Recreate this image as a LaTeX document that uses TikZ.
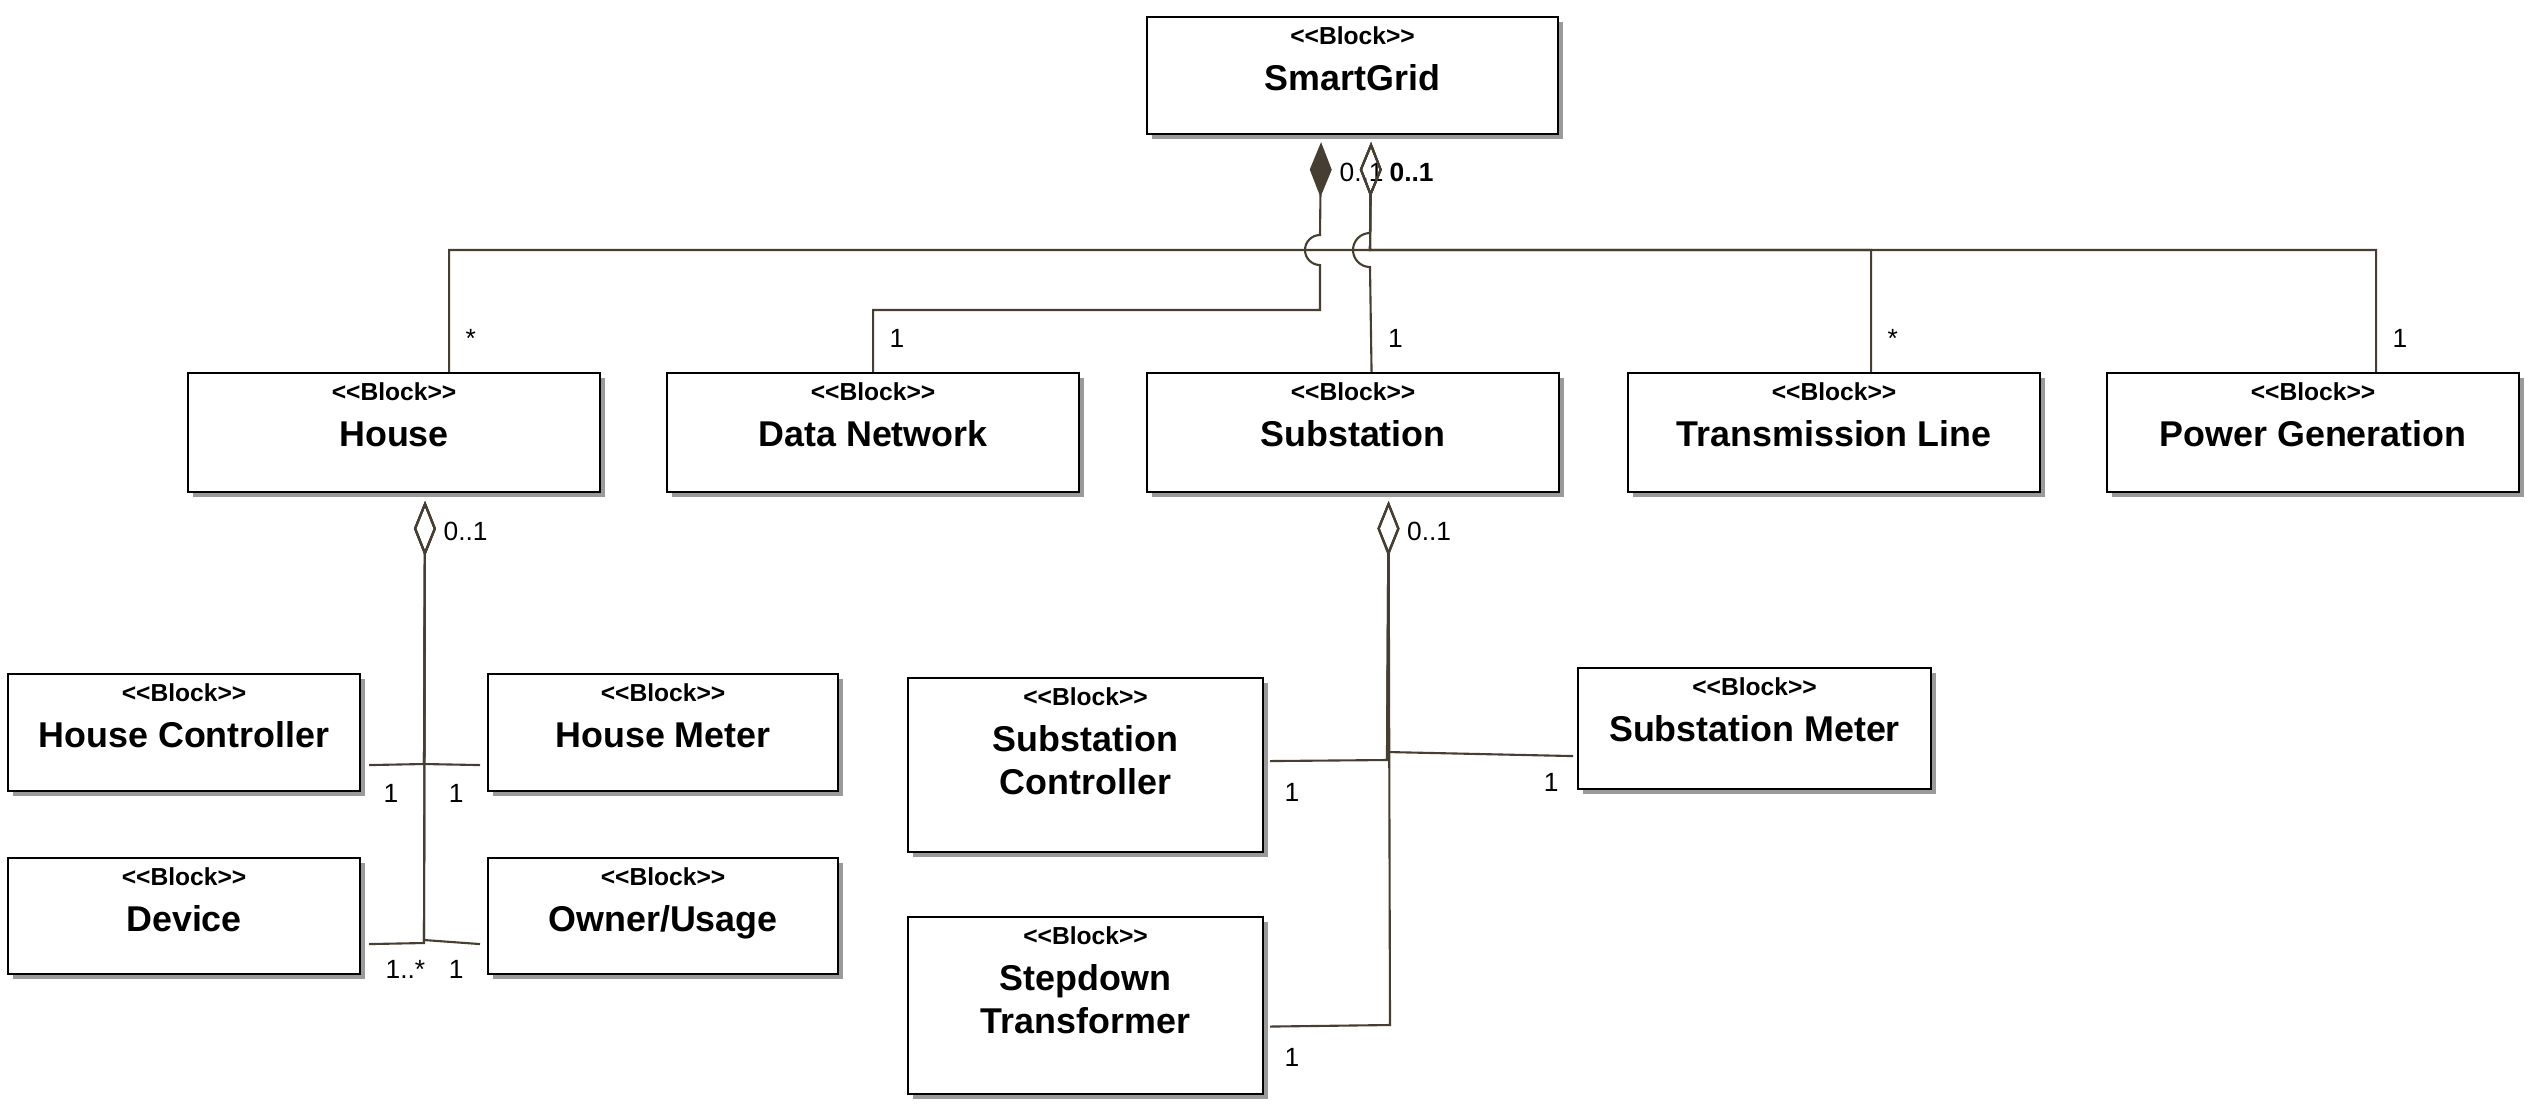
\documentclass[tikz,border=0pt]{standalone}
\usepackage{fontspec}
\setmainfont{Liberation Sans}
\usetikzlibrary{arrows.meta,positioning,shadows}
\definecolor{Umber}{HTML}{463E30}
\definecolor{Shade}{HTML}{9A9A9A}
\newcommand{\stereofont}{\bfseries\fontsize{7}{8}\selectfont}
\tikzset{
  blockbox/.style={draw=black, line width=0.6pt, fill=white, anchor=north west, minimum width=4.12cm, minimum height=1.19cm, drop shadow={shadow xshift=0.05cm, shadow yshift=-0.05cm, fill=Shade, opacity=1}},
  blocktext/.style={anchor=north, align=center, inner sep=0pt, yshift=-1mm, font=\bfseries\fontsize{10.2}{12.2}\selectfont},
  block/.style={label={[blocktext]north:{{\stereofont<{}<Block>{}>}\\[1pt]#1}}},
  assoc/.style={draw=Umber, line width=0.6pt},
  comp/.style={assoc, {Diamond[length=5.5mm, width=2.2mm, fill=Umber]}-},
  agg/.style={assoc, {Diamond[open, length=5.5mm, width=2.2mm]}-},
  mult/.style={font=\fontsize{7.5}{9}\selectfont, inner sep=1pt, text=black},
  endmult/.style={mult, anchor=west, xshift=1.4mm, yshift=-3mm},
  boldmult/.style={endmult, font=\bfseries\fontsize{7.5}{9}\selectfont}
}
\begin{document}
\begin{tikzpicture}
  \useasboundingbox (0,0) rectangle (25.28,-11.16);

  % top level
  \node[blockbox, minimum width=4.11cm, minimum height=1.17cm, block=SmartGrid] (smartgrid) at (11.46,-0.16) {};

  \node[blockbox, block=House] (house) at (1.87,-3.72) {};
  \node[blockbox, block=Data Network] (datanet) at (6.66,-3.72) {};
  \node[blockbox, block=Substation] (substation) at (11.46,-3.72) {};
  \node[blockbox, block=Transmission Line] (transline) at (16.27,-3.72) {};
  \node[blockbox, block=Power Generation] (powergen) at (21.06,-3.72) {};

  % house parts
  \node[blockbox, minimum width=3.52cm, minimum height=1.17cm, block=House Controller] (housectrl) at (0.07,-6.73) {};
  \node[blockbox, minimum width=3.50cm, minimum height=1.17cm, block=House Meter] (housemeter) at (4.87,-6.73) {};
  \node[blockbox, minimum width=3.52cm, minimum height=1.16cm, block=Device] (device) at (0.07,-8.57) {};
  \node[blockbox, minimum width=3.50cm, minimum height=1.16cm, block=Owner/Usage] (owner) at (4.87,-8.57) {};

  % substation parts
  \node[blockbox, minimum width=3.55cm, minimum height=1.74cm, block={Substation\\Controller}] (subctrl) at (9.07,-6.77) {};
  \node[blockbox, minimum width=3.53cm, minimum height=1.21cm, block=Substation Meter] (submeter) at (15.77,-6.67) {};
  \node[blockbox, minimum width=3.55cm, minimum height=1.77cm, block={Stepdown\\Transformer}] (stepdown) at (9.07,-9.16) {};

  \coordinate (sgcomp) at ([xshift=-3.15mm, yshift=-0.7mm]smartgrid.south);
  \coordinate (sgagg) at ([xshift=1.85mm, yshift=-0.7mm]smartgrid.south);
  \coordinate (houseagg) at ([xshift=3.1mm, yshift=-0.8mm]house.south);
  \coordinate (subagg) at ([xshift=3.55mm, yshift=-0.8mm]substation.south);

  % SmartGrid associations
  \draw[comp] (sgcomp) node[endmult]{0..1} -- (13.20,-2.35) arc[start angle=90, end angle=270, radius=0.15] -- (13.20,-3.10) -| node[mult, pos=1, above right=2mm and 1.2mm]{1} (datanet.north);
  \draw[agg] (sgagg) -- (13.70,-2.50) -| node[mult, pos=1, above right=2mm and 1.2mm]{*} ([xshift=5.5mm]house.north);
  \draw[agg] (sgagg) -- (13.70,-2.50) -| node[mult, pos=1, above right=2mm and 1.2mm]{*} ([xshift=3.7mm]transline.north);
  \draw[agg] (sgagg) -- (13.70,-2.50) -| node[mult, pos=1, above right=2mm and 1.2mm]{1} ([xshift=6.3mm]powergen.north);
  \draw[agg] (sgagg) node[boldmult]{0..1} -- (13.70,-2.33) arc[start angle=90, end angle=270, radius=0.17] -- node[mult, pos=1, above right=2mm and 1.2mm]{1} ([xshift=1.85mm]substation.north);

  % House associations
  \draw[agg] (houseagg) node[endmult]{0..1} -- (4.24,-7.64) -- node[mult, pos=1, below right=1.5mm and 1mm]{1} ([xshift=0.8mm, yshift=-3.25mm]housectrl.east);
  \draw[agg] (houseagg) -- (4.24,-7.64) -- node[mult, pos=1, below left=1.5mm and 1.2mm]{1} ([xshift=-0.7mm, yshift=-3.25mm]housemeter.west);
  \draw[agg] (houseagg) -- (4.24,-9.43) -- node[mult, pos=1, below right=1.2mm and 1.2mm]{1..*} ([xshift=0.8mm, yshift=-2.8mm]device.east);
  \draw[agg] (houseagg) -- (4.24,-9.40) -- node[mult, pos=1, below left=1.2mm and 1.2mm]{1} ([xshift=-0.7mm, yshift=-2.8mm]owner.west);

  % Substation associations
  \draw[agg] (subagg) node[endmult]{0..1} -- (13.87,-7.60) -- node[mult, pos=1, below right=1.8mm and 1mm]{1} ([xshift=0.6mm, yshift=0.4mm]subctrl.east);
  \draw[agg] (subagg) -- (13.87,-7.52) -- node[mult, pos=1, below left=1.3mm and 1mm]{1} ([xshift=-0.4mm, yshift=-2.75mm]submeter.west);
  \draw[agg] (subagg) -- (13.90,-10.25) -- node[mult, pos=1, below right=1.7mm and 1mm]{1} ([xshift=0.6mm, yshift=-2.1mm]stepdown.east);
\end{tikzpicture}
\end{document}
